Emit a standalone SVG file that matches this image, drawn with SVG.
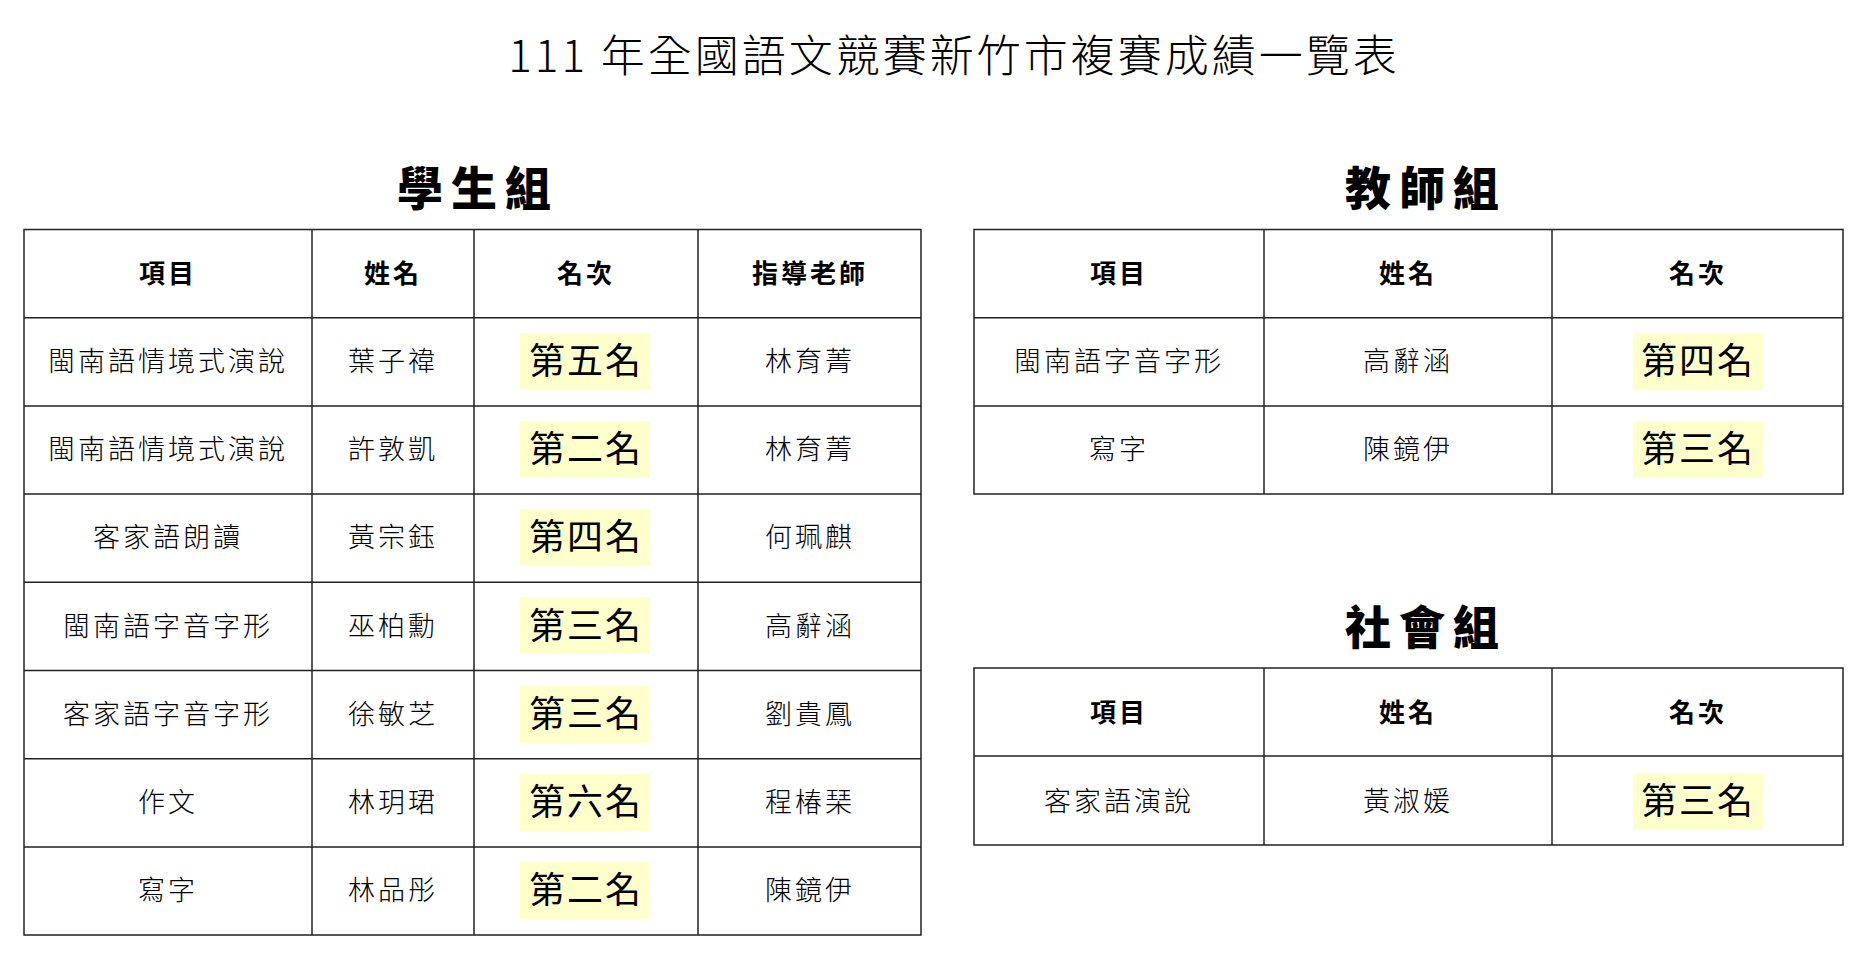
<svg xmlns="http://www.w3.org/2000/svg" width="1870" height="966" viewBox="0 0 1870 966">
<style>
text{font-family:"Noto Sans CJK TC","Noto Sans CJK SC",sans-serif;fill:#000;text-anchor:middle}
.t{font-size:44px;font-weight:300;letter-spacing:3px}
.s{font-size:46px;font-weight:900;letter-spacing:8px}
.h{font-size:26px;font-weight:700;letter-spacing:3px}
.c{font-size:27px;font-weight:300;letter-spacing:3px}
.r{font-size:36px;font-weight:400;letter-spacing:2px}
.g{fill:none;stroke:#222;stroke-width:1.5}
.hl{fill:#FFFFCC}
</style>
<rect width="1870" height="966" fill="#fff"/>
<text class="t" x="954" y="72">111 年全國語文競賽新竹市複賽成績一覽表</text>
<g id="student">
<text class="s" x="478" y="205">學生組</text>
<path class="g" d="M24 229.5H921V935H24Z M312 229.5V935 M474 229.5V935 M698 229.5V935 M24 317.7H921 M24 405.9H921 M24 494.1H921 M24 582.3H921 M24 670.5H921 M24 758.7H921 M24 846.9H921"/>
<g class="hl"><rect x="520" y="333" width="130" height="57"/><rect x="520" y="421" width="130" height="57"/><rect x="520" y="509" width="130" height="57"/><rect x="520" y="597" width="130" height="57"/><rect x="520" y="686" width="130" height="57"/><rect x="520" y="774" width="130" height="57"/><rect x="520" y="862" width="130" height="57"/></g>
<text class="h" x="168" y="283">項目</text><text class="h" x="393" y="283">姓名</text><text class="h" x="586" y="283">名次</text><text class="h" x="810" y="283">指導老師</text>
<text class="c" x="168" y="371">閩南語情境式演說</text><text class="c" x="393" y="371">葉子禕</text><text class="r" x="586" y="374">第五名</text><text class="c" x="810" y="371">林育菁</text>
<text class="c" x="168" y="459">閩南語情境式演說</text><text class="c" x="393" y="459">許敦凱</text><text class="r" x="586" y="462">第二名</text><text class="c" x="810" y="459">林育菁</text>
<text class="c" x="168" y="547">客家語朗讀</text><text class="c" x="393" y="547">黃宗鈺</text><text class="r" x="586" y="550">第四名</text><text class="c" x="810" y="547">何珮麒</text>
<text class="c" x="168" y="636">閩南語字音字形</text><text class="c" x="393" y="636">巫柏勳</text><text class="r" x="586" y="639">第三名</text><text class="c" x="810" y="636">高辭涵</text>
<text class="c" x="168" y="724">客家語字音字形</text><text class="c" x="393" y="724">徐敏芝</text><text class="r" x="586" y="727">第三名</text><text class="c" x="810" y="724">劉貴鳳</text>
<text class="c" x="168" y="812">作文</text><text class="c" x="393" y="812">林玥珺</text><text class="r" x="586" y="815">第六名</text><text class="c" x="810" y="812">程椿琹</text>
<text class="c" x="168" y="900">寫字</text><text class="c" x="393" y="900">林品彤</text><text class="r" x="586" y="903">第二名</text><text class="c" x="810" y="900">陳鏡伊</text>
</g>
<g id="teacher">
<text class="s" x="1426" y="205">教師組</text>
<path class="g" d="M974 229.5H1843V494.1H974Z M1264 229.5V494.1 M1552 229.5V494.1 M974 317.7H1843 M974 405.9H1843"/>
<g class="hl"><rect x="1633" y="333" width="130" height="57"/><rect x="1633" y="421" width="130" height="57"/></g>
<text class="h" x="1119" y="283">項目</text><text class="h" x="1408" y="283">姓名</text><text class="h" x="1698" y="283">名次</text>
<text class="c" x="1119" y="371">閩南語字音字形</text><text class="c" x="1408" y="371">高辭涵</text><text class="r" x="1698" y="374">第四名</text>
<text class="c" x="1119" y="459">寫字</text><text class="c" x="1408" y="459">陳鏡伊</text><text class="r" x="1698" y="462">第三名</text>
</g>
<g id="social">
<text class="s" x="1426" y="644">社會組</text>
<path class="g" d="M974 668H1843V845H974Z M1264 668V845 M1552 668V845 M974 756H1843"/>
<rect class="hl" x="1633" y="773" width="130" height="57"/>
<text class="h" x="1119" y="722">項目</text><text class="h" x="1408" y="722">姓名</text><text class="h" x="1698" y="722">名次</text>
<text class="c" x="1119" y="811">客家語演說</text><text class="c" x="1408" y="811">黃淑媛</text><text class="r" x="1698" y="814">第三名</text>
</g>
<g id="connectors"/>
</svg>
